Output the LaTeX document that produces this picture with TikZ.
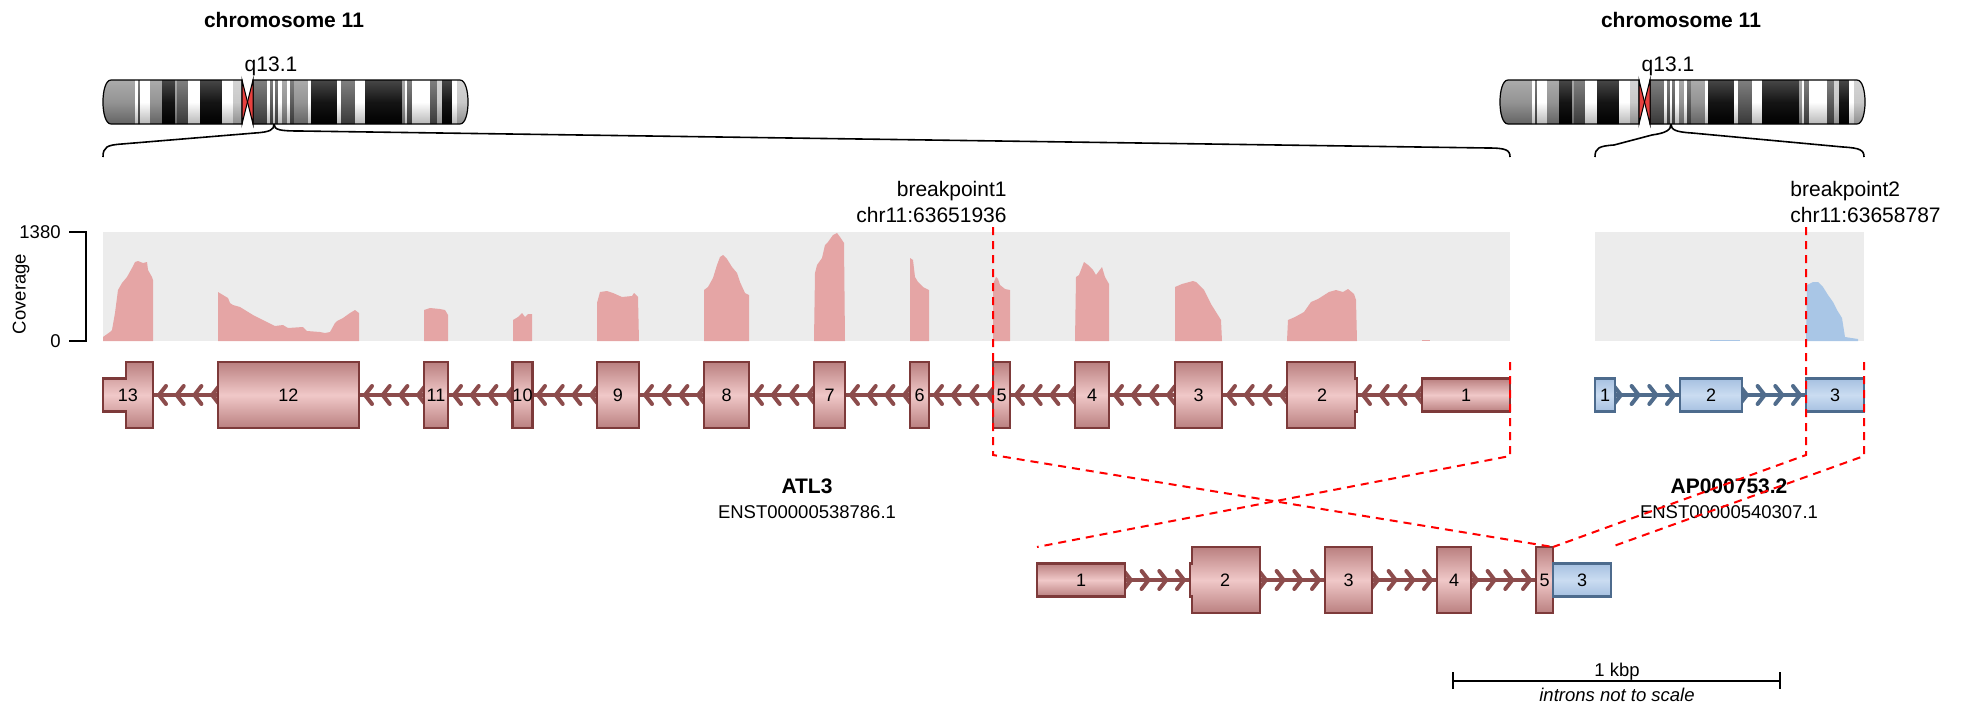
\documentclass[tikz,border=0pt]{standalone}
\usepackage{fontspec}
\setmainfont{Liberation Sans}
\usetikzlibrary{calc}

% colours
\definecolor{covbg}{HTML}{ECECEC}
\definecolor{covpink}{HTML}{E5A5A5}
\definecolor{covblue}{HTML}{A9C6E6}
\definecolor{exedge}{HTML}{7D3A3A}
\definecolor{exdark}{HTML}{BA8080}
\definecolor{exlight}{HTML}{F0C8C8}
\definecolor{intronP}{HTML}{8C4C4C}
\definecolor{bedge}{HTML}{4D6B8D}
\definecolor{bdark}{HTML}{A6C0E1}
\definecolor{blight}{HTML}{CADCF1}
\definecolor{intronB}{HTML}{506C8C}
\definecolor{gpA}{HTML}{C4C4C4}
\definecolor{gpB}{HTML}{8A8A8A}
\definecolor{gpC}{HTML}{4E4E4E}
\definecolor{cenred}{HTML}{E8413F}

% font sizes (picture unit: 1 = 0.5pt)
\newcommand\txtbig{\fontsize{10.5pt}{12pt}\selectfont}
\newcommand\txtsmall{\fontsize{9.25pt}{11pt}\selectfont}
\newcommand\txtnum{\fontsize{9pt}{10pt}\selectfont}

\pgfdeclarelayer{back}
\pgfsetlayers{back,main}

\tikzset{
  exonP/.style={draw=exedge, line width=1.1pt, top color=exdark, bottom color=exdark, middle color=exlight},
  tallP/.style={exonP, inner sep=0pt, outer sep=0pt, minimum height=33pt, font=\txtnum},
  shortP/.style={exonP, inner sep=0pt, outer sep=0pt, minimum height=16.5pt, font=\txtnum},
  exonB/.style={draw=bedge, line width=1.1pt, top color=bdark, bottom color=bdark, middle color=blight,
                inner sep=0pt, outer sep=0pt, minimum height=16.5pt, font=\txtnum},
  exlabel/.style={inner sep=0pt, outer sep=0pt, font=\txtnum},
  intronlineP/.style={draw=intronP, line width=1.6pt},
  intronlineB/.style={draw=intronB, line width=1.6pt},
  chevP/.style={draw=intronP, line width=2pt, line join=round, line cap=round},
  chevB/.style={draw=intronB, line width=2pt, line join=round, line cap=round},
  brace/.style={draw=black, line width=0.8pt},
  bpline/.style={draw=red, line width=1pt, dash pattern=on 4pt off 3pt},
  axisline/.style={draw=black, line width=1pt},
  txt/.style={inner sep=0pt, font=\txtbig},
  smalltxt/.style={inner sep=0pt, font=\txtsmall},
}

% one exon drawn as a node: name, style, left x, right x, centre y, label
\newcommand\exonnode[6]{%
  \pgfmathsetmacro\exc{(#3+#4)/2}%
  \pgfmathsetmacro\exw{(#4-#3)*0.5}%
  \node[#2, minimum width=\exw pt] (#1) at (\exc,#5) {#6};}

% cytoband list of chromosome 11: left x / right x / colour
\def\bandlist{103/135/gpB, 135/138/white, 138/140/gpC, 140/150/white, 150/162/gpB,
  162/175/black, 175/177/gpB, 177/188/gpC, 188/200/white, 200/222/black, 222/233/white,
  233/243/gpA, 252/267/gpC, 267/270/white, 270/273/gpC, 273/275/white, 275/278/gpC,
  278/282/white, 282/287/gpB, 287/290/white, 290/294/gpC, 294/308/gpB, 308/311/white,
  311/337/black, 337/341/white, 341/355/gpC, 355/365/white, 365/402/black, 402/405/gpB,
  405/407/white, 407/412/gpC, 412/430/white, 430/437/gpC, 437/442/gpA, 442/452/black,
  452/457/white, 457/470/gpA}

% chromosome 11 ideogram with its title and band label
\newcommand\ideogram[1]{%
  \begin{scope}
    \clip (111,80) -- (242,80) -- (242,124) -- (111,124) .. controls (100.3,124) and (100.3,80) .. (111,80) -- cycle
          (253,80) -- (460,80) .. controls (470.7,80) and (470.7,124) .. (460,124) -- (253,124) -- cycle;
    \foreach \xa/\xb/\c in \bandlist
      \shade[top color=\c!72!white, bottom color=\c!72!black, middle color=\c!92!white] (\xa,80) rectangle (\xb,124);
  \end{scope}
  \draw[line width=0.6pt] (111,80) -- (242,80) -- (242,124) -- (111,124) .. controls (100.3,124) and (100.3,80) .. (111,80) -- cycle;
  \draw[line width=0.6pt] (253,80) -- (460,80) .. controls (470.7,80) and (470.7,124) .. (460,124) -- (253,124) -- cycle;
  \filldraw[fill=cenred, draw=black, line width=0.5pt] (242,80) -- (247.5,102) -- (242,124) -- cycle;
  \filldraw[fill=cenred, draw=black, line width=0.5pt] (253,80) -- (247.5,102) -- (253,124) -- cycle;
  \node[txt, font=\txtbig\bfseries, anchor=base] (#1title) at (284,27) {chromosome 11};
  \node[txt, anchor=base] (#1band) at (271,71) {q13.1};
}

\begin{document}
\begin{tikzpicture}[x=0.5pt,y=-0.5pt]
\useasboundingbox (0,0) rectangle (1967,707);

% ---------------- ideograms ----------------
\ideogram{L}
\begin{scope}[xshift=698.5pt]
  \ideogram{R}
\end{scope}

% zoom braces from band q13.1 to the gene panels
\coordinate (qL) at (274,124);
\coordinate (panelLa) at (103,157);
\coordinate (panelLb) at (1510,157);
\coordinate (qR) at (1671,124);
\coordinate (panelRa) at (1595,157);
\coordinate (panelRb) at (1864,157);
\draw[brace] (panelLa) .. controls (103,147) and (107,145) .. (122,144) -- (255,133) .. controls (270,132) and (274,130) .. (qL);
\draw[brace] (qL) .. controls (274,130) and (280,131) .. (300,131) -- (1488,148) .. controls (1506,148) and (1510,150) .. (panelLb);
\draw[brace] (panelRa) .. controls (1595,148) and (1599,146) .. (1614,145) -- (1652,135) .. controls (1666,133) and (1671,130) .. (qR);
\draw[brace] (qR) .. controls (1671,130) and (1676,132) .. (1692,133) -- (1843,147) .. controls (1860,148) and (1864,150) .. (panelRb);

% ---------------- coverage ----------------
\fill[covbg] (103,232) rectangle (1510,341);
\fill[covbg] (1595,232) rectangle (1864,341);
\fill[covpink] (103,341) -- (103,337) -- (110,332) -- (112,330) -- (115,313) -- (118,290) -- (122,283) -- (127,277) -- (132,268) -- (135,262) -- (138,261) -- (143,263) -- (147,262) -- (148,270) -- (152,277) -- (153,280) -- (153,341) -- cycle;
\fill[covpink] (218,341) -- (218,292) -- (223,295) -- (228,298) -- (230,303) -- (233,305) -- (240,307) -- (253,315) -- (263,320) -- (275,326) -- (283,325) -- (288,328) -- (303,327) -- (307,331) -- (320,332) -- (325,333) -- (330,332) -- (335,323) -- (337,321) -- (343,318) -- (350,313) -- (355,310) -- (359,313) -- (359,341) -- cycle;
\fill[covpink] (424,341) -- (424,310) -- (430,308) -- (440,309) -- (445,310) -- (448,315) -- (448,341) -- cycle;
\fill[covpink] (513,341) -- (513,320) -- (518,317) -- (522,313) -- (525,317) -- (528,314) -- (532,314) -- (532,341) -- cycle;
\fill[covpink] (597,341) -- (597,303) -- (600,292) -- (607,291) -- (613,293) -- (622,297) -- (632,296) -- (634,293) -- (638,297) -- (639,341) -- cycle;
\fill[covpink] (704,341) -- (704,290) -- (708,287) -- (713,278) -- (717,265) -- (720,257) -- (723,255) -- (727,259) -- (732,267) -- (737,273) -- (740,282) -- (745,293) -- (749,295) -- (749,341) -- cycle;
\fill[covpink] (814,341) -- (815,273) -- (817,265) -- (822,258) -- (825,245) -- (828,242) -- (833,235) -- (837,233) -- (840,237) -- (844,243) -- (845,341) -- cycle;
\fill[covpink] (910,341) -- (910,258) -- (913,260) -- (915,277) -- (918,282) -- (923,287) -- (929,290) -- (929,341) -- cycle;
\fill[covpink] (993,341) -- (993,284) -- (996,277) -- (998,279) -- (1000,285) -- (1005,289) -- (1010,290) -- (1010,341) -- cycle;
\fill[covpink] (1075,341) -- (1076,277) -- (1079,275) -- (1084,262) -- (1088,265) -- (1093,270) -- (1096,275) -- (1102,267) -- (1105,277) -- (1109,284) -- (1109,341) -- cycle;
\fill[covpink] (1175,341) -- (1175,287) -- (1182,284) -- (1193,281) -- (1196,282) -- (1204,290) -- (1211,304) -- (1216,312) -- (1221,320) -- (1222,341) -- cycle;
\fill[covpink] (1287,341) -- (1288,320) -- (1295,317) -- (1304,312) -- (1311,302) -- (1318,299) -- (1329,292) -- (1336,290) -- (1343,292) -- (1348,289) -- (1354,294) -- (1356,300) -- (1357,341) -- cycle;
\fill[covpink] (1422,341) rectangle (1430,339.5);
\fill[covblue] (1806,341) -- (1807,285) -- (1813,282) -- (1818,282) -- (1823,287) -- (1828,295) -- (1833,302) -- (1837,310) -- (1842,318) -- (1845,337) -- (1858,339) -- (1858,341) -- cycle;
\fill[covblue] (1710,341) rectangle (1740,339.5);

% coverage axis
\coordinate (axtop) at (86,232);
\coordinate (axbot) at (86,341);
\draw[axisline] ($(axtop)+(-17,0)$) -- (axtop) -- (axbot) -- ($(axbot)+(-17,0)$);
\node[smalltxt, anchor=east] (axmax) at (61,232) {1380};
\node[smalltxt, anchor=east] (axmin) at (61,341) {0};
\node[smalltxt, rotate=90] (axname) at (21,294) {Coverage};

% ---------------- transcripts ----------------
% ATL3 (minus strand)
\path[exonP] (103,378.5) -- (126,378.5) -- (126,362) -- (153,362) -- (153,428) -- (126,428) -- (126,411.5) -- (103,411.5) -- cycle;
\node[exlabel, minimum width=25pt, minimum height=33pt] (a13) at (128,395) {13};
\foreach \n/\xa/\xb/\l in {a12/218/359/12, a11/424/448/11, a10/513/532/10, a9/597/639/9,
    a8/704/749/8, a7/814/845/7, a6/910/929/6, a5/993/1010/5, a4/1075/1109/4, a3/1175/1222/3}
  {\exonnode{\n}{tallP}{\xa}{\xb}{395}{\l}}
\path[exonP] (1287,362) -- (1355,362) -- (1355,378.5) -- (1357,378.5) -- (1357,411.5) -- (1355,411.5) -- (1355,428) -- (1287,428) -- cycle;
\node[exlabel, minimum width=35pt, minimum height=33pt] (a2) at (1322,395) {2};
\exonnode{a1}{shortP}{1422}{1510}{395}{1}

% AP000753.2 (plus strand)
\exonnode{b1}{exonB}{1595}{1615}{395}{1}
\exonnode{b2}{exonB}{1680}{1742}{395}{2}
\exonnode{b3}{exonB}{1806}{1864}{395}{3}

% fusion transcript
\exonnode{f1}{shortP}{1037}{1125}{580}{1}
\path[exonP] (1190,563.5) -- (1192,563.5) -- (1192,547) -- (1260,547) -- (1260,613) -- (1192,613) -- (1192,596.5) -- (1190,596.5) -- cycle;
\node[exlabel, minimum width=35pt, minimum height=33pt] (f2) at (1225,580) {2};
\exonnode{f3}{tallP}{1325}{1372}{580}{3}
\exonnode{f4}{tallP}{1437}{1471}{580}{4}
\exonnode{f5}{tallP}{1536}{1553}{580}{5}
\exonnode{fb3}{exonB}{1553}{1611}{580}{3}

% introns with strand chevrons, behind the exons
\begin{pgfonlayer}{back}
  \foreach \u/\v in {a13/a12, a12/a11, a11/a10, a10/a9, a9/a8, a8/a7, a7/a6, a6/a5, a5/a4, a4/a3, a3/a2, a2/a1}
    \draw[intronlineP] (\u.east) -- (\v.west);
  \foreach \g in {153,359,448,532,639,749,845,929,1010,1109,1222,1357}
    \foreach \k in {0,1,2,3} {
      \pgfmathsetmacro\t{\g+6+17.7*\k}
      \draw[chevP] (\t+7,386) -- (\t,395) -- (\t+7,404);
    }
  \foreach \u/\v in {b1/b2, b2/b3}
    \draw[intronlineB] (\u.east) -- (\v.west);
  \foreach \e in {1680,1806}
    \foreach \k in {0,1,2,3} {
      \pgfmathsetmacro\t{\e-6-17.7*\k}
      \draw[chevB] (\t-7,386) -- (\t,395) -- (\t-7,404);
    }
  \foreach \u/\v in {f1/f2, f2/f3, f3/f4, f4/f5}
    \draw[intronlineP] (\u.east) -- (\v.west);
  \foreach \e in {1190,1325,1437,1536}
    \foreach \k in {0,1,2,3} {
      \pgfmathsetmacro\t{\e-6-17.7*\k}
      \draw[chevP] (\t-7,571) -- (\t,580) -- (\t-7,589);
    }
\end{pgfonlayer}

% gene names
\node[txt, font=\txtbig\bfseries, anchor=base] (atlname) at (807,493) {ATL3};
\node[smalltxt, anchor=base] (atlid) at (807,518) {ENST00000538786.1};
\node[txt, font=\txtbig\bfseries, anchor=base] (apname) at (1729,493) {AP000753.2};
\node[smalltxt, anchor=base] (apid) at (1729,518) {ENST00000540307.1};

% breakpoints
\node[txt, anchor=base east] (bp1name) at (1007,196) {breakpoint1};
\node[txt, anchor=base east] (bp1pos) at (1007,222) {chr11:63651936};
\node[txt, anchor=base west] (bp2name) at (1790,196) {breakpoint2};
\node[txt, anchor=base west] (bp2pos) at (1790,222) {chr11:63658787};

\coordinate (bp1top) at (993,227);
\coordinate (bp1bend) at (993,455);
\coordinate (endLtop) at (1510,362);
\coordinate (endLbend) at (1510,456);
\coordinate (bp2top) at (1806,227);
\coordinate (bp2bend) at (1806,455);
\coordinate (endRtop) at (1864,362);
\coordinate (endRbend) at (1864,456);
\coordinate (fuseL) at (f1.west |- f5.north);
\coordinate (fuseR) at (fb3.east |- f5.north);
\draw[bpline] (bp1top) -- (bp1bend) -- (f5.north east);
\draw[bpline] (endLtop) -- (endLbend) -- (fuseL);
\draw[bpline] (bp2top) -- (bp2bend) -- (f5.north east);
\draw[bpline] (endRtop) -- (endRbend) -- (fuseR);

% scale bar
\coordinate (sbL) at (1453,681);
\coordinate (sbR) at (1780,681);
\draw[axisline] (sbL) -- (sbR);
\draw[axisline] ($(sbL)+(0,-9)$) -- ($(sbL)+(0,8)$);
\draw[axisline] ($(sbR)+(0,-9)$) -- ($(sbR)+(0,8)$);
\node[smalltxt, anchor=base] (sbtext) at (1617,676) {1 kbp};
\node[smalltxt, font=\txtsmall\itshape, anchor=base] (sbnote) at (1617,701) {introns not to scale};

\end{tikzpicture}
\end{document}
